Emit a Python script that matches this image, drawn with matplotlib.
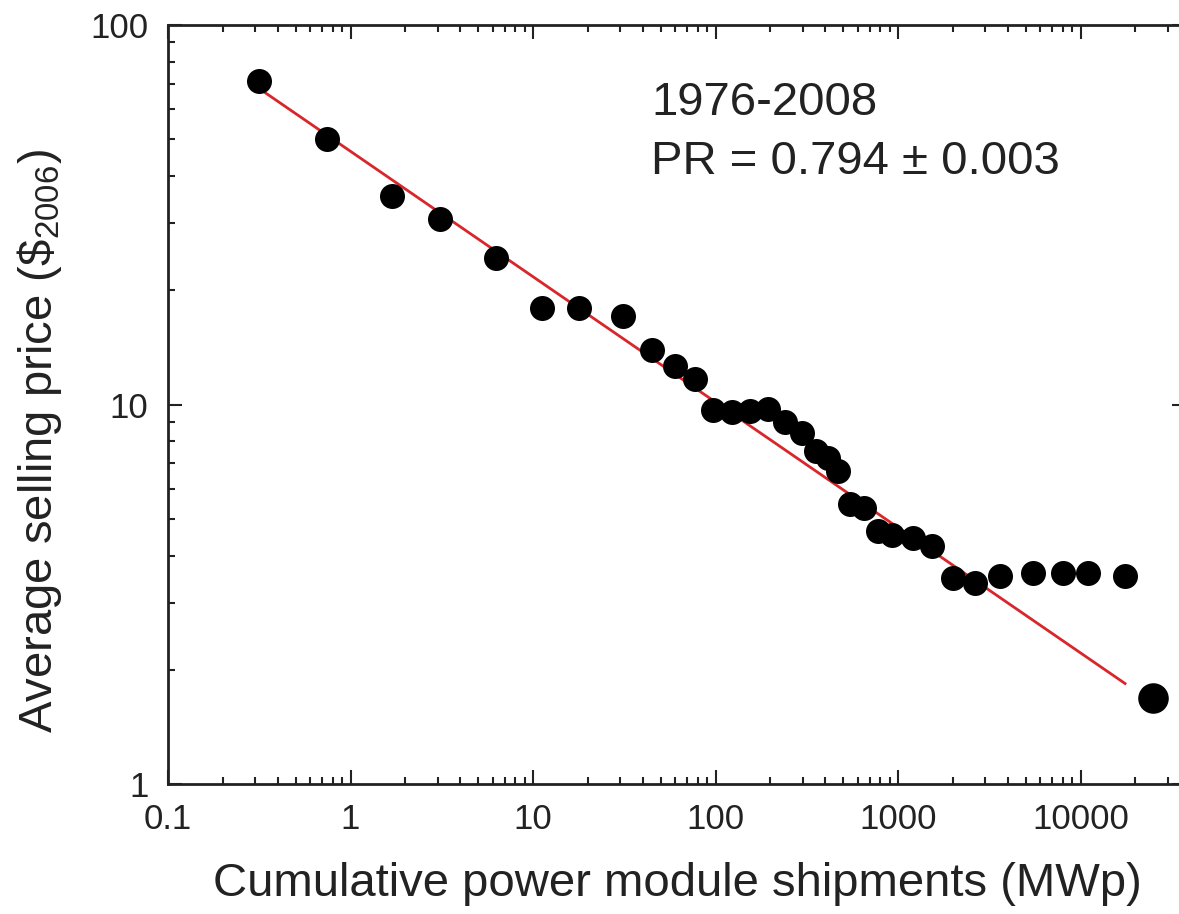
import numpy as np
import matplotlib
matplotlib.use('Agg')
import matplotlib.pyplot as plt
from matplotlib.ticker import LogLocator, NullFormatter, FixedLocator, FixedFormatter

plt.rcParams['font.family'] = ['Liberation Sans', 'DejaVu Sans']
plt.rcParams['mathtext.fontset'] = 'custom'
plt.rcParams['mathtext.rm'] = 'Liberation Sans'
plt.rcParams['mathtext.it'] = 'Liberation Sans:italic'

# cumulative shipments (MWp) and average selling price ($2006), 1976-2008
shipments = [0.316, 0.743, 1.69, 3.09, 6.27, 11.2, 17.9, 31.1, 44.9, 60.0,
             77.2, 96.9, 123, 155, 194, 240, 298, 356, 413, 469,
             546, 652, 777, 927, 1208, 1535, 2001, 2642, 3622, 5495,
             8017, 10990, 17540]
prices = [71.4, 50.2, 35.5, 30.9, 24.3, 18.0, 18.0, 17.1, 13.9, 12.6,
          11.7, 9.70, 9.53, 9.64, 9.76, 8.97, 8.39, 7.56, 7.21, 6.66,
          5.48, 5.35, 4.63, 4.54, 4.46, 4.25, 3.48, 3.38, 3.54, 3.59,
          3.59, 3.59, 3.54]

# single large point at the right
extra_x = [24950]
extra_y = [1.68]

# learning-curve fit, end points
fit_x = [0.316, 17540]
fit_y = [68.0, 1.84]

xticks = [0.1, 1, 10, 100, 1000, 10000]
xtick_labels = ['0.1', '1', '10', '100', '1000', '10000']
yticks = [1, 10, 100]
ytick_labels = ['1', '10', '100']

fig = plt.figure(figsize=(11.79, 9.14), dpi=100)
ax = fig.add_axes([168 / 1179, 130 / 914, 1018 / 1179, 759 / 914])
ax.set_xscale('log')
ax.set_yscale('log')
ax.set_xlim(0.1, 10 ** ((1186 - 168) / 182.5 - 1))
ax.set_ylim(1, 100)

ax.plot(fit_x, fit_y, color='#d8262a', lw=2, zorder=2)
ax.plot(shipments, prices, 'o', color='black', ms=18, mec='none', zorder=3)
ax.plot(extra_x, extra_y, 'o', color='black', ms=22, mec='none', zorder=3, clip_on=False)

ax.xaxis.set_major_locator(FixedLocator(xticks))
ax.xaxis.set_major_formatter(FixedFormatter(xtick_labels))
ax.yaxis.set_major_locator(FixedLocator(yticks))
ax.yaxis.set_major_formatter(FixedFormatter(ytick_labels))
ax.xaxis.set_minor_locator(LogLocator(base=10, subs=np.arange(2, 10), numticks=20))
ax.yaxis.set_minor_locator(LogLocator(base=10, subs=np.arange(2, 10), numticks=20))
ax.xaxis.set_minor_formatter(NullFormatter())
ax.yaxis.set_minor_formatter(NullFormatter())

ax.tick_params(which='both', direction='in', top=True, right=True, width=1.5, colors='#222222')
ax.tick_params(which='major', length=10)
ax.tick_params(which='minor', length=5)
ax.tick_params(axis='x', which='major', pad=14, labelsize=25)
ax.tick_params(axis='y', which='major', pad=14, labelsize=25)
for s in ax.spines.values():
    s.set_linewidth(2)
    s.set_color('#222222')

ax.set_xlabel('Cumulative power module shipments (MWp)', fontsize=34, color='#222222', va='center')
ax.set_ylabel(r'Average selling price (\$$_{\mathrm{2006}}$)', fontsize=34, color='#222222', va='center')
ax.xaxis.set_label_coords(0.5, (784 - 884) / 759)
ax.yaxis.set_label_coords((40 - 168) / 1018, (784 - 441) / 759)

fig.text(651 / 1179, 1 - 103 / 914, '1976-2008', fontsize=34, va='center', ha='left', color='#222222')
fig.text(651 / 1179, 1 - 162 / 914, 'PR = 0.794 \u00b1 0.003', fontsize=34, va='center', ha='left', color='#222222')

fig.savefig('out.png', dpi=100)
